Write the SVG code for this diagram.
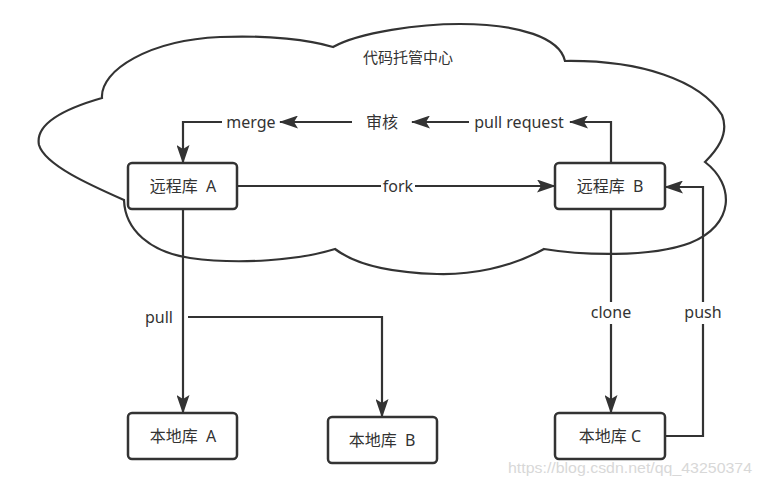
<svg xmlns="http://www.w3.org/2000/svg" width="760" height="487" viewBox="0 0 760 487">
<defs>
<marker id="arr" markerUnits="userSpaceOnUse" markerWidth="19" markerHeight="13" viewBox="0 0 19 13" refX="18" refY="6.5" orient="auto">
<path d="M0,0 L19,6.5 L0,13 L4,6.5 z" fill="#333"/>
</marker>
<style>
.box{fill:#fff;stroke:#333;stroke-width:2.5}
.ln{fill:none;stroke:#333;stroke-width:2.2}
.t{font-family:"Noto Sans","Noto Sans CJK SC",sans-serif;font-size:16px;fill:#333;text-anchor:middle;dominant-baseline:central}
.bg{fill:#fff}
</style>
</defs>
<rect width="760" height="487" fill="#fff"/>
<g id="cloud">
<path d="M102,98 C100,70 150,40 220,37 C270,35 310,40 333,47 C360,32 420,24 460,24 C520,24 560,38 565,61 C640,60 700,80 722,115 C730,135 715,152 705,162 C735,185 735,225 690,243 C650,258 580,255 544,249 C510,268 470,275 437,274 C400,273 360,268 335,249 C300,260 240,265 190,258 C150,252 125,230 124,200 C90,185 45,165 39,145 C35,125 60,110 102,98 Z" fill="#fff" stroke="#333" stroke-width="2.2"/>
<text class="t" x="408" y="57" style="font-size:15px">代码托管中心</text>
</g>
<g id="connectors">
<path class="ln" d="M611,164 V122 H570" marker-end="url(#arr)"/>
<path class="ln" d="M469,122 H412" marker-end="url(#arr)"/>
<path class="ln" d="M352,122 H280" marker-end="url(#arr)"/>
<path class="ln" d="M222,122 H183 V163" marker-end="url(#arr)"/>
<path class="ln" d="M237,186 H555" marker-end="url(#arr)"/>
<path class="ln" d="M183,209 V413" marker-end="url(#arr)"/>
<path class="ln" d="M188,317 H382 V417" marker-end="url(#arr)"/>
<path class="ln" d="M611,209 V413" marker-end="url(#arr)"/>
<path class="ln" d="M665,436 H703 V187 H665" marker-end="url(#arr)"/>
<text class="t" x="519" y="122">pull request</text>
<text class="t" x="382" y="122">审核</text>
<text class="t" x="251" y="122">merge</text>
<rect class="bg" x="381" y="176" width="34" height="20"/>
<text class="t" x="398" y="186">fork</text>
<text class="t" x="159" y="317">pull</text>
<rect class="bg" x="587" y="302" width="48" height="22"/>
<text class="t" x="611" y="312">clone</text>
<rect class="bg" x="682" y="302" width="42" height="22"/>
<text class="t" x="703" y="312">push</text>
</g>
<g id="remoteA">
<rect class="box" x="128" y="163" width="109" height="46" rx="4"/>
<text class="t" x="183" y="186" xml:space="preserve">远程库  A</text>
</g>
<g id="remoteB">
<rect class="box" x="555" y="163" width="110" height="46" rx="4"/>
<text class="t" x="610" y="186" xml:space="preserve">远程库  B</text>
</g>
<g id="localA">
<rect class="box" x="128" y="413" width="109" height="46" rx="4"/>
<text class="t" x="183" y="436" xml:space="preserve">本地库  A</text>
</g>
<g id="localB">
<rect class="box" x="328" y="417" width="109" height="46" rx="4"/>
<text class="t" x="382" y="440" xml:space="preserve">本地库  B</text>
</g>
<g id="localC">
<rect class="box" x="555" y="413" width="110" height="46" rx="4"/>
<text class="t" x="610" y="436">本地库 C</text>
</g>
<text x="508" y="467" textLength="244" lengthAdjust="spacingAndGlyphs" style="font-family:'Liberation Sans',sans-serif;font-size:15px;fill:#d8d8d8;dominant-baseline:central">https://blog.csdn.net/qq_43250374</text>
</svg>
